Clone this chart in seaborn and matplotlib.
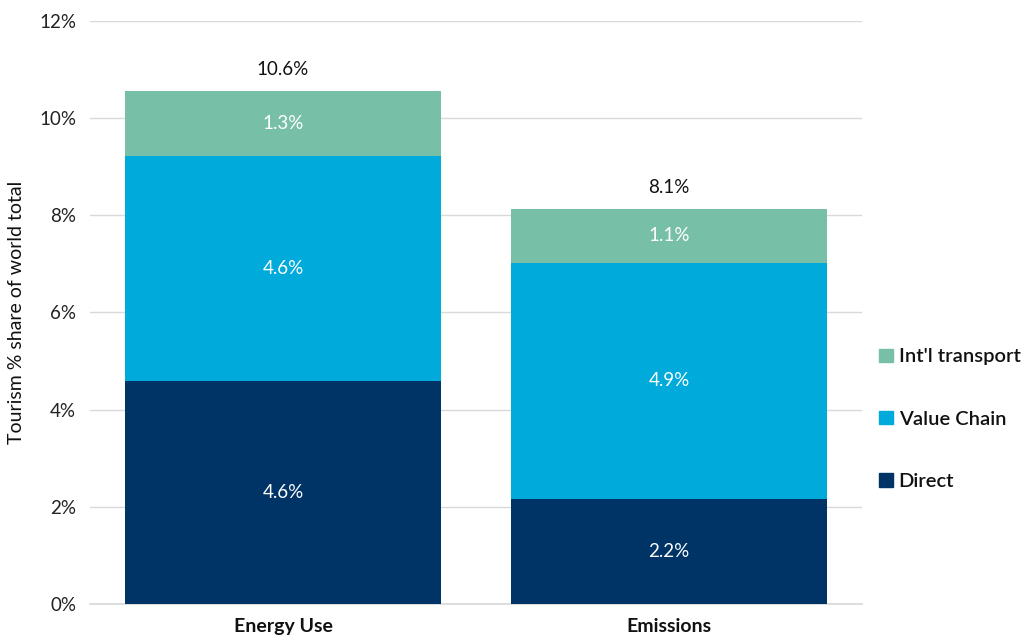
import matplotlib
matplotlib.use("Agg")
import matplotlib.pyplot as plt
import seaborn as sns
import pandas as pd
from matplotlib.patches import Patch

categories = ["Energy Use", "Emissions"]
direct = [4.59, 2.16]
value_chain = [4.64, 4.86]
intl_transport = [1.33, 1.11]
y_ticks = [0, 2, 4, 6, 8, 10, 12]

c_direct = "#003366"
c_vc = "#00AADB"
c_intl = "#78BFA8"

sns.set_theme(style="white")
plt.rcParams["font.family"] = ["Lato", "DejaVu Sans"]

df = pd.DataFrame({"cat": categories, "direct": direct, "vc": value_chain, "intl": intl_transport})
df["lvl1"] = df["direct"]
df["lvl2"] = df["direct"] + df["vc"]
df["lvl3"] = df["lvl2"] + df["intl"]

fig = plt.figure(figsize=(10.25, 6.4), dpi=100)
ax = fig.add_axes([0.0878, 0.05625, 0.7532, 0.911])

for col, color in [("lvl3", c_intl), ("lvl2", c_vc), ("lvl1", c_direct)]:
    sns.barplot(data=df, x="cat", y=col, color=color, width=0.82, ax=ax,
                saturation=1, linewidth=0, zorder=3)

ax.set_ylim(0, 12)
ax.set_xlim(-0.5, 1.5)
ax.set_yticks(y_ticks)
ax.set_yticklabels([f"{t}%" for t in y_ticks], fontsize=13.5, color="#222222")
ax.yaxis.grid(True, color="#d9d9d9", linewidth=1, zorder=0)
ax.set_axisbelow(True)
for s in ["top", "right", "left"]:
    ax.spines[s].set_visible(False)
ax.spines["bottom"].set_color("#d9d9d9")
ax.tick_params(axis="both", length=0, pad=10)
ax.set_xlabel("")
ax.set_ylabel("Tourism % share of world total", fontsize=14, color="#111111", labelpad=10)
for lbl in ax.get_xticklabels():
    lbl.set_fontsize(14)
    lbl.set_fontweight("bold")
    lbl.set_color("#111111")

for i in range(len(categories)):
    d, v, t = df.loc[i, "direct"], df.loc[i, "vc"], df.loc[i, "intl"]
    ax.text(i, d / 2, f"{d:.1f}%", ha="center", va="center", color="white", fontsize=13.5, zorder=5)
    ax.text(i, d + v / 2, f"{v:.1f}%", ha="center", va="center", color="white", fontsize=13.5, zorder=5)
    ax.text(i, d + v + t / 2, f"{t:.1f}%", ha="center", va="center", color="white", fontsize=13.5, zorder=5)
    ax.text(i, d + v + t + 0.45, f"{d + v + t:.1f}%", ha="center", va="center", color="#111111", fontsize=13.5, zorder=5)

handles = [Patch(color=c_intl, label="Int'l transport"),
           Patch(color=c_vc, label="Value Chain"),
           Patch(color=c_direct, label="Direct")]
leg = fig.legend(handles=handles, loc="center left", bbox_to_anchor=(0.858, 0.345),
                 frameon=False, fontsize=14.5, labelspacing=2.25, handlelength=0.65,
                 handleheight=0.65, handletextpad=0.3, borderpad=0, borderaxespad=0)
for t in leg.get_texts():
    t.set_fontweight("semibold")
    t.set_color("#111111")

fig.savefig("out.png", dpi=100)
